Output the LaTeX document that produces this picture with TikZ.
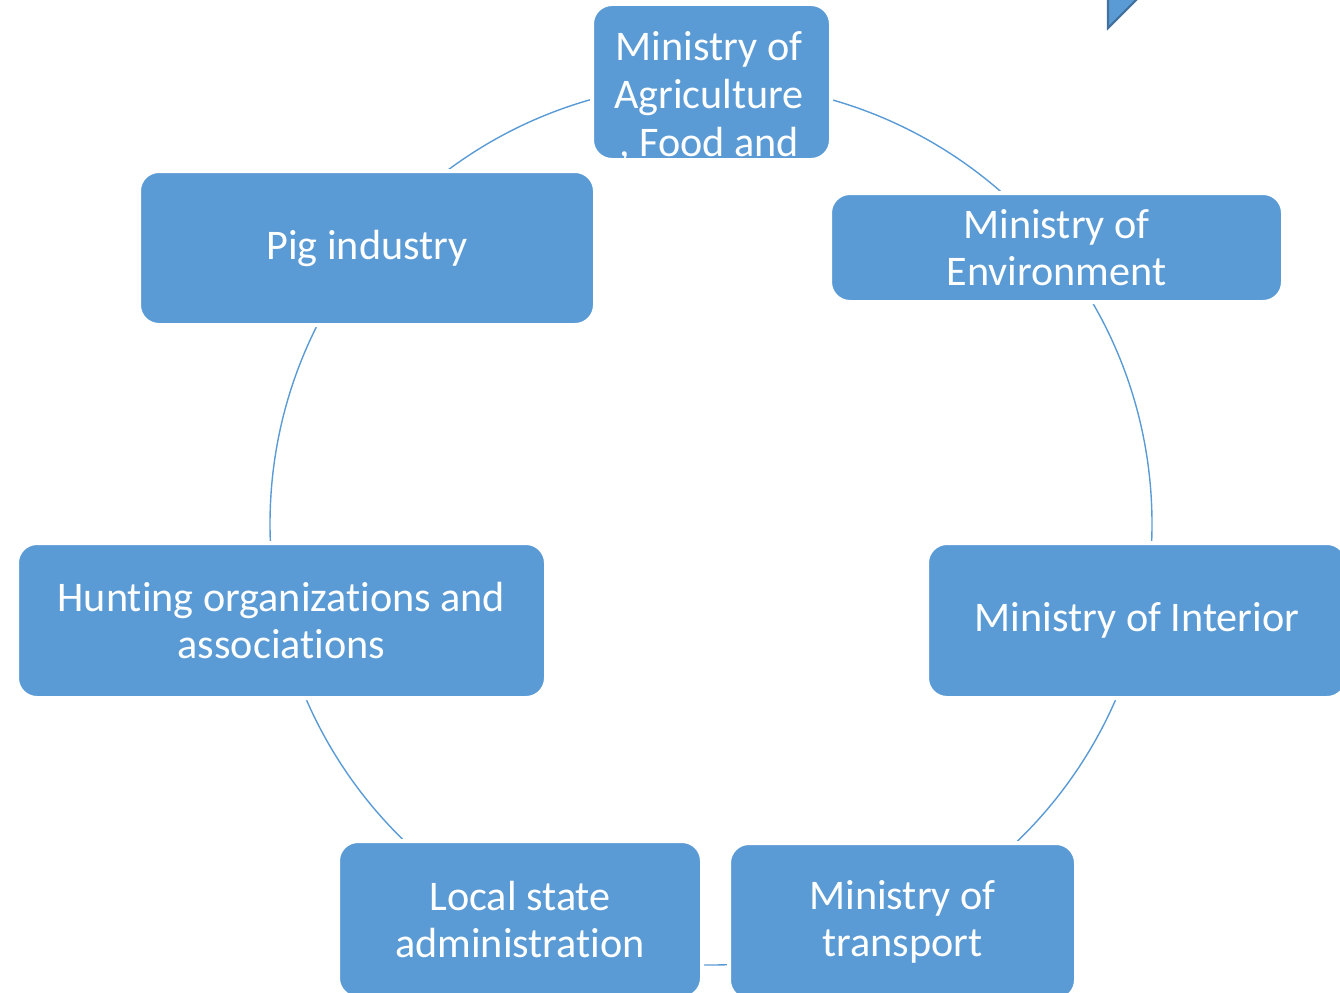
\documentclass[tikz,border=0pt]{standalone}
\usepackage{fontspec}
\setmainfont{Carlito}[Ligatures=NoCommon]
\definecolor{blocblue}{HTML}{5B9BD5}
\definecolor{edgeblue}{HTML}{41719C}
\tikzset{
    bloc/.style={rectangle, rounded corners=0.2cm, fill=blocblue, draw=white,
      line width=0.04cm, text=white, align=center, inner sep=0pt,
      font=\fontsize{12}{13.4}\selectfont},
    ring/.style={draw=blocblue, line width=0.4pt},
  }

\begin{document}
\begin{tikzpicture}
	\useasboundingbox (0,0) rectangle (13.4,9.92);
	\clip (0,0) rectangle (13.4,9.92);
	%cycle
	\coordinate (hub) at (7.11,4.68);
	\draw[ring] (hub) circle (4.41cm);
	%corner of a shape cut off by the page
	\filldraw[fill=blocblue, draw=edgeblue, line width=0.6pt] (11.08,10.2) -- (11.08,9.64) -- (11.64,10.2) -- cycle;
	%blocs
	\node[bloc, minimum width=2.39cm, minimum height=1.56cm] (agri) at (7.115,9.10) {};
	\begin{scope}
		\clip[rounded corners=0.18cm] ([shift={(0.02,0.02)}]agri.south west) rectangle ([shift={(-0.02,-0.02)}]agri.north east);
		\node[text=white, align=center, inner sep=0pt, font=\fontsize{12}{13.6}\selectfont] (agritext) at (7.09,8.955) {Ministry of\\Agriculture\\, Food and};
	\end{scope}
	\node[bloc, minimum width=4.53cm, minimum height=1.09cm] (env) at (10.565,7.445) {Ministry of\\Environment};
	\node[bloc, minimum width=4.20cm, minimum height=1.55cm] (inter) at (11.37,3.715) {Ministry of Interior};
	\node[bloc, minimum width=3.47cm, minimum height=1.57cm] (trans) at (9.025,0.705) {Ministry of\\transport};
	\node[bloc, minimum width=3.64cm, minimum height=1.57cm] (local) at (5.20,0.725) {Local state\\administration};
	\node[bloc, minimum width=5.29cm, minimum height=1.55cm] (hunt) at (2.815,3.715) {Hunting organizations and\\associations};
	\node[bloc, minimum width=4.56cm, minimum height=1.54cm] (pig) at (3.67,7.44) {Pig industry};
\end{tikzpicture}
\end{document}
